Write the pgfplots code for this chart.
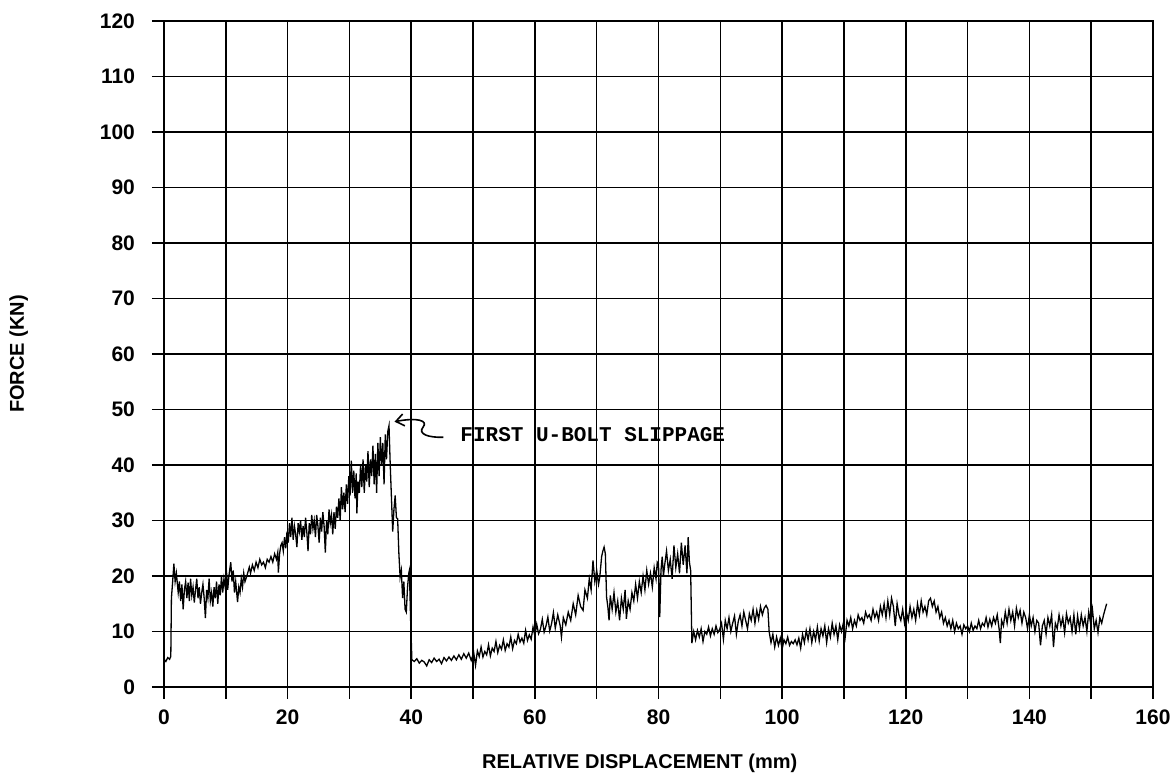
\documentclass[border=0pt]{standalone}
\usepackage{fontspec}
\setmainfont{Liberation Sans}
\newfontfamily\monofont{Liberation Mono}
\usepackage{pgfplots}
\pgfplotsset{compat=1.18}
\usetikzlibrary{arrows.meta}
\begin{document}
\begin{tikzpicture}
\begin{axis}[
  at={(0,0)}, anchor=south west,
  scale only axis,
  width=494.5pt, height=333pt,
  xmin=0, xmax=160, ymin=0, ymax=120,
  xtick={0,10,...,160},
  xticklabels={0,,20,,40,,60,,80,,100,,120,,140,,160},
  ytick={0,10,...,120},
  grid=major,
  grid style={black, line width=0.8pt},
  axis line style={black, line width=0.8pt},
  tick style={black, line width=0.8pt},
  tick align=outside,
  major tick length=6pt,
  xtick pos=bottom, ytick pos=left,
  /pgf/number format/assume math mode=true,
  ticklabel style={font=\bfseries\fontsize{10.5}{12}\selectfont},
  xticklabel style={yshift=-2pt},
  yticklabel style={xshift=-5pt},
  xlabel={RELATIVE DISPLACEMENT (mm)},
  ylabel={FORCE (KN)},
  label style={font=\bfseries\fontsize{10}{12}\selectfont},
  xlabel style={at={(axis description cs:0.481,-0.114)}, anchor=center},
  ylabel style={at={(axis description cs:-0.1468,0.5)}, anchor=center},
  clip=false,
]
\addplot[black, line width=0.65pt] coordinates {
(0,5)(0.3,4.6)(0.6,5.3)(0.9,5)(1.1,5.5)(1.2,16)(1.4,19)(1.6,22.2)(1.8,19)
(2.0,20.5)(2.3,17)(2.5,19)(2.7,15.5)(2.9,18.5)(3.1,14)(3.3,17.5)(3.5,19)(3.7,16)(3.9,18.8)
(4.1,15.5)(4.3,19.5)(4.5,16.5)(4.7,18)(4.9,15.2)(5.1,17.5)(5.3,19.5)(5.5,16)(5.7,18)(5.9,15)
(6.1,17)(6.3,18.5)(6.5,16)(6.7,12.4)(6.9,17.5)(7.1,16)(7.3,19.5)(7.5,15.5)(7.7,17)(7.9,14.5)
(8.1,18)(8.3,16)(8.5,19)(8.7,15)(8.9,18.5)(9.1,16.5)(9.3,20)(9.5,17)(9.7,19.5)(9.9,18)
(10.1,21)(10.3,17.5)(10.5,20)(10.8,22.5)(11.0,19)(11.2,21)(11.4,17)(11.6,19)(11.9,15.3)
(12.1,18)(12.3,17)(12.5,19.5)(12.7,18)(12.9,20.5)(13.1,19)(13.4,20)(13.8,21.6)(14.0,20.5)
(14.3,22)(14.6,21)(14.9,22.5)(15.2,21.5)(15.5,23)(15.8,22)(16.1,22.5)(16.4,21.5)(16.7,23)
(17.0,22.5)(17.3,23.5)(17.6,22.5)(17.9,24)(18.2,23)(18.4,24.2)(18.5,20.6)(18.7,24)(18.9,25.5)
(19.1,26)(19.3,24.5)(19.5,27)(19.7,25)(19.9,28)(20.1,26)(20.3,29.5)(20.5,27)(20.7,30.5)
(20.9,26.5)(21.1,29)(21.3,27.5)(21.5,25.2)(21.7,29.5)(21.9,28)(22.1,30)(22.3,26.5)(22.5,29)
(22.7,27)(22.9,30.5)(23.1,28)(23.3,24.5)(23.5,29.5)(23.7,27.5)(23.9,31)(24.1,28.5)(24.3,30)
(24.5,27)(24.7,31)(24.9,29)(25.1,26)(25.3,30.5)(25.5,28)(25.7,31.5)(25.9,29)(26.1,24.2)
(26.3,30)(26.5,27.5)(26.7,32)(26.9,29.5)(27.1,31)(27.3,27.5)(27.5,31.5)(27.7,28.5)(27.9,32.5)
(28.1,30.5)(28.3,34)(28.5,30)(28.7,36)(28.9,32)(29.1,35)(29.3,31.5)(29.5,36.5)(29.7,33)
(29.9,38)(30.1,34.5)(30.3,40.8)(30.5,35)(30.7,39)(30.9,34)(31.1,38.5)(31.2,31.3)(31.4,37)
(31.6,35)(31.8,40)(32.0,36)(32.2,41)(32.4,35)(32.6,40)(32.8,37)(33.0,42.5)(33.2,36)(33.4,41)
(33.6,38)(33.8,43.5)(34.0,36.5)(34.2,42)(34.4,35)(34.6,44)(34.8,38)(35.0,45)(35.2,40)(35.4,44)
(35.6,36.5)(35.8,45.5)(36.0,41)(36.2,46)(36.4,47.1)(36.6,40)(36.8,34)(37.0,28)(37.2,32)
(37.4,34.5)(37.6,30.5)(37.8,30.3)(38.0,24)(38.2,19.8)(38.4,21)(38.6,16)(38.8,19)(39.0,14)
(39.2,13.5)(39.4,18)(39.6,20.5)(39.7,21)(39.9,12)(40.1,4.9)
(40.5,4.6)(40.9,5.1)(41.3,4.3)(41.7,4.8)(42.1,4.5)(42.5,3.8)(42.9,4.9)(43.3,4.4)(43.7,5.2)
(44.1,4.6)(44.5,5.0)(44.9,4.2)(45.3,5.3)(45.7,4.7)(46.1,5.4)(46.5,4.8)(46.9,5.6)(47.3,4.9)
(47.7,5.8)(48.1,5.0)(48.5,6.0)(48.9,5.2)(49.3,6.1)(49.7,4.8)(50.1,6.2)(50.4,3.9)(50.7,6.5)
(51.0,5.5)(51.3,7.2)(51.6,5.4)(51.9,6.4)(52.2,5.8)(52.5,7.6)(52.8,5.6)(53.1,7.0)(53.4,6.4)
(53.7,8.2)(54.0,6.2)(54.3,7.5)(54.6,6.8)(54.9,8.5)(55.2,6.6)(55.5,7.8)(55.8,7.2)(56.1,9.0)
(56.4,6.9)(56.7,8.4)(57.0,7.8)(57.3,9.5)(57.6,8.1)(57.9,8.8)(58.2,7.9)(58.5,10.2)(58.8,8.4)
(59.1,9.4)(59.4,8.6)(59.7,10.8)(60.0,9.2)(60.3,11.3)(60.6,9.6)(60.9,10.4)(61.2,12.2)(61.5,9.9)
(61.8,11.0)(62.1,12.6)(62.4,10.1)(62.7,11.4)(63.0,13.4)(63.3,10.6)(63.7,13.0)(64.1,11.0)
(64.3,9.0)(64.6,12.5)(65.0,11.2)(65.4,13.5)(65.8,12.0)(66.2,15.0)(66.6,13.0)(67.0,16.5)
(67.4,14.5)(67.8,13.8)(68.1,17.5)(68.5,16.0)(68.8,19.5)(69.1,17.5)(69.4,22.8)(69.7,19.0)
(70.0,21.0)(70.3,18.5)(70.5,19.8)(70.8,23.5)(71.0,24.5)(71.2,25.2)(71.4,24.0)(71.6,16.2)
(71.8,14.5)(72.0,12.0)(72.2,16.5)(72.5,14.0)(72.8,17.0)(73.1,13.5)(73.4,15.5)(73.7,12.0)
(74.0,16.0)(74.3,14.0)(74.6,17.5)(74.8,12.3)(75.1,15.5)(75.4,14.0)(75.7,17.0)(76.0,15.5)
(76.3,18.5)(76.6,16.0)(76.9,19.0)(77.2,17.0)(77.5,20.0)(77.8,17.5)(78.1,21.0)(78.4,18.5)
(78.7,20.5)(79.0,18.0)(79.3,21.5)(79.6,19.5)(79.8,22.5)(80.0,22.2)(80.2,12.6)(80.4,21.0)
(80.6,23.5)(80.8,20.0)(81.0,22.0)(81.3,24.5)(81.6,21.0)(81.9,23.0)(82.2,19.5)(82.5,25.5)
(82.8,21.5)(83.1,24.0)(83.4,20.5)(83.7,26.0)(84.0,22.0)(84.3,25.5)(84.6,20.5)(84.8,27.0)
(85.0,22.5)(85.2,21.0)
(85.4,7.9)(85.7,10.0)(86.0,8.5)(86.3,10.2)(86.6,9.0)(86.9,10.5)(87.2,8.2)(87.5,10.0)(87.8,9.5)
(88.1,10.8)(88.4,9.2)(88.7,10.5)(89.0,9.5)(89.3,11.0)(89.6,9.8)(89.9,10.4)(90.2,11.5)(90.5,8.6)
(90.8,12.0)(91.1,10.5)(91.4,12.5)(91.7,10.0)(92.0,11.5)(92.3,12.8)(92.6,9.5)(92.9,11.8)
(93.2,13.0)(93.5,11.0)(93.8,13.5)(94.1,12.0)(94.4,10.5)(94.7,13.2)(95.0,12.0)(95.3,14.0)
(95.6,11.5)(95.9,13.8)(96.2,12.2)(96.5,14.5)(96.8,13.0)(97.1,14.2)(97.4,14.7)(97.7,14.0)
(97.9,10.0)(98.2,8.0)(98.5,9.5)(98.8,7.2)(99.1,9.0)(99.4,7.5)(99.7,8.8)(100.0,6.8)(100.3,8.5)
(100.6,7.8)(100.9,9.0)(101.2,7.5)(101.5,8.2)(101.8,7.8)(102.1,8.5)(102.4,7.6)(102.7,8.8)
(103.0,7.0)(103.3,9.5)(103.6,8.0)(103.9,10.2)(104.2,8.5)(104.5,10.5)(104.8,8.0)(105.1,10.0)
(105.4,8.5)(105.7,10.8)(106.0,8.3)(106.3,10.5)(106.6,9.2)(106.9,11.0)(107.2,8.0)(107.5,10.5)
(107.8,9.0)(108.1,11.5)(108.4,9.5)(108.7,11.0)(109.0,8.5)(109.3,11.2)(109.6,10.0)(109.9,11.5)
(110.2,9.0)(110.5,12.0)(110.8,11.0)(111.1,12.5)(111.4,10.5)(111.7,12.0)(112.0,11.0)(112.3,13.0)
(112.6,12.0)(112.9,12.5)(113.2,11.5)(113.5,13.5)(113.8,12.5)(114.1,13.0)(114.4,12.0)(114.7,14.0)
(115.0,12.5)(115.3,13.5)(115.6,12.0)(115.9,14.5)(116.2,13.0)(116.5,15.0)(116.8,12.5)(117.1,15.5)
(117.4,13.0)(117.7,16.0)(118.0,14.5)(118.3,11.0)(118.6,15.0)(118.9,13.0)(119.2,12.0)(119.5,14.0)
(119.8,11.5)(120.1,13.5)(120.4,12.0)(120.7,14.5)(121.0,12.5)(121.3,14.0)(121.6,12.0)(121.9,15.0)
(122.2,13.0)(122.5,15.5)(122.8,13.5)(123.1,14.5)(123.4,13.0)(123.7,15.5)(124.0,16.0)(124.3,14.5)
(124.6,15.5)(124.9,13.5)(125.2,14.5)(125.5,12.5)(125.8,13.5)(126.1,11.5)(126.4,12.5)(126.7,11.0)
(127.0,12.0)(127.3,10.5)(127.6,12.0)(127.9,10.0)(128.2,11.5)(128.5,10.5)(128.8,11.0)(129.1,9.5)
(129.4,11.2)(129.7,10.5)(130.0,11.0)(130.3,10.0)(130.6,11.5)(130.9,10.2)(131.2,11.0)(131.5,10.5)
(131.8,12.0)(132.1,10.5)(132.4,11.5)(132.7,11.0)(133.0,12.5)(133.3,10.8)(133.6,12.2)(133.9,11.0)
(134.2,12.5)(134.5,11.5)(134.8,13.0)(135.1,10.5)(135.3,7.9)(135.5,12.0)(135.8,11.0)(136.1,13.5)
(136.4,11.5)(136.7,14.0)(137.0,12.0)(137.3,13.5)(137.6,11.0)(137.9,14.2)(138.2,12.5)(138.5,13.8)
(138.8,11.5)(139.1,13.5)(139.4,12.5)(139.7,10.5)(140.0,13.0)(140.3,11.0)(140.6,12.5)(140.9,10.0)
(141.2,12.0)(141.5,11.5)(141.8,7.5)(142.1,11.0)(142.4,12.0)(142.7,9.5)(143.0,12.5)(143.3,11.0)
(143.6,13.0)(143.9,7.2)(144.2,11.5)(144.5,10.5)(144.8,13.0)(145.1,11.0)(145.4,12.5)(145.7,9.8)
(146.0,13.2)(146.3,11.5)(146.6,12.5)(146.9,10.0)(147.2,13.0)(147.5,9.5)(147.8,12.8)(148.1,10.5)
(148.4,13.0)(148.7,11.0)(149.0,12.5)(149.3,10.0)(149.6,13.5)(149.9,11.5)(150.2,14.0)(150.5,10.5)
(150.8,12.0)(151.1,9.8)(151.4,12.5)(151.7,11.5)(152.0,13.0)(152.5,15.0)
};
\draw[black, line width=0.8pt, -{Straight Barb[length=4pt,width=6pt]}]
  (axis cs:45.2,45) .. controls (axis cs:42.8,44.9) and (axis cs:41.0,45.6) .. (axis cs:41.9,46.8)
  .. controls (axis cs:42.8,48.0) and (axis cs:41,48.6) .. (axis cs:37.3,47.8);
\node[anchor=west, inner sep=0pt, font=\monofont\bfseries\fontsize{10.5}{12}\selectfont]
  at (axis cs:47.9,45.4) {FIRST U-BOLT SLIPPAGE};
\end{axis}
\pgfresetboundingbox
\path[use as bounding box] (-82pt,-43.5pt) rectangle (503.5pt,343.5pt);
\end{tikzpicture}
\end{document}
